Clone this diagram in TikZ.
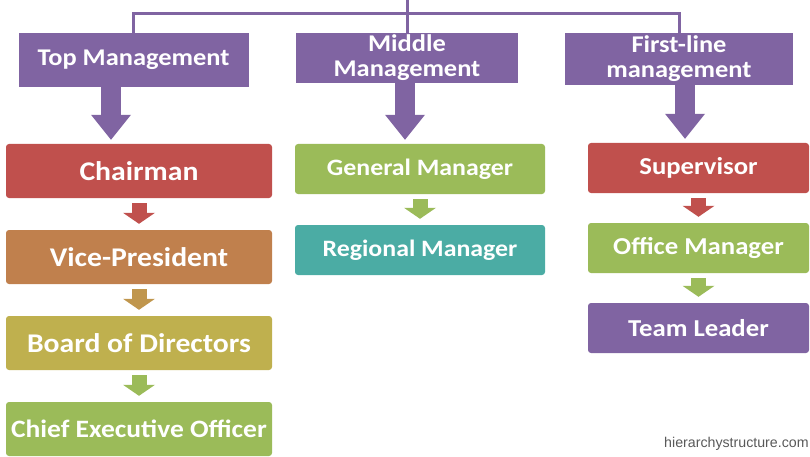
\documentclass[tikz,border=0pt]{standalone}
\usepackage{fontspec}
\setmainfont[FakeStretch=1.1]{Carlito}
\newfontfamily\sitefont{Liberation Sans}
\usetikzlibrary{arrows.meta}

\definecolor{violet1}{RGB}{128,100,162}
\definecolor{red1}{RGB}{192,80,77}
\definecolor{brown1}{RGB}{192,128,77}
\definecolor{olive1}{RGB}{191,176,78}
\definecolor{green1}{RGB}{155,187,89}
\definecolor{teal1}{RGB}{75,172,164}

\tikzset{
  level/.style={fill=violet1, text=white, align=center, inner sep=0pt,
    font=\fontsize{24}{25}\selectfont\bfseries},
  post/.style={rounded corners=3pt, text=white, inner sep=0pt},
  link/.style={draw=violet1, line width=3pt},
  bigarrow/.style={draw=violet1, line width=20pt,
    -{Triangle[width=40pt,length=25pt,line width=0pt]}, shorten >=4pt},
  smallarrow/.style={line width=15pt,
    -{Triangle[width=32pt,length=11pt,line width=0pt]}, shorten <=5pt, shorten >=6pt}
}

\begin{document}
\begin{tikzpicture}[x=1pt,y=-1pt]
\useasboundingbox (0,0) rectangle (810,457);

% levels
\node[level, minimum width=230pt, minimum height=54pt] (top) at (133.5,60) {Top Management};
\node[level, minimum width=222pt, minimum height=50pt] (mid) at (407,58) {Middle\\Management};
\node[level, minimum width=228pt, minimum height=52pt] (first) at (679,59) {First-line\\management};

% top management
\node[post, fill=red1, minimum width=266pt, minimum height=54pt, font=\fontsize{27}{30}\selectfont\bfseries] (chair) at (139,171) {Chairman};
\node[post, fill=brown1, minimum width=266pt, minimum height=54pt, font=\fontsize{27}{30}\selectfont\bfseries] (vp) at (139,257) {Vice-President};
\node[post, fill=olive1, minimum width=266pt, minimum height=54pt, font=\fontsize{27}{30}\selectfont\bfseries] (board) at (139,343) {Board of Directors};
\node[post, fill=green1, minimum width=266pt, minimum height=54pt, font=\fontsize{25}{28}\selectfont\bfseries] (ceo) at (139,429) {Chief Executive Officer};

% middle management
\node[post, fill=green1, minimum width=250pt, minimum height=50pt, font=\fontsize{23.5}{26}\selectfont\bfseries] (gm) at (420,169) {General Manager};
\node[post, fill=teal1, minimum width=250pt, minimum height=50pt, font=\fontsize{23.5}{26}\selectfont\bfseries] (rm) at (420,250) {Regional Manager};

% first-line management
\node[post, fill=red1, minimum width=221pt, minimum height=50pt, font=\fontsize{24.3}{27}\selectfont\bfseries] (sup) at (698.5,168) {Supervisor};
\node[post, fill=green1, minimum width=221pt, minimum height=50pt, font=\fontsize{24.3}{27}\selectfont\bfseries] (om) at (698.5,248) {Office Manager};
\node[post, fill=violet1, minimum width=221pt, minimum height=50pt, font=\fontsize{24.3}{27}\selectfont\bfseries] (tl) at (698.5,328) {Team Leader};

\node[font=\sitefont\fontsize{14.2}{15}\selectfont, text=black!65, anchor=base west, inner sep=0pt] (site) at (664,447) {hierarchystructure.com};

% tree lines
\coordinate (root) at (407,0);
\coordinate (hub) at (407,14);
\path[link] (root) -- (hub);
\path[link] (hub) -| (top.north);
\path[link] (hub) -- (mid.north);
\path[link] (hub) -| (first.north);

\path[bigarrow] ([xshift=-22.5pt]top.south) -- ([xshift=-28pt]chair.north);
\path[bigarrow] ([xshift=-2pt]mid.south) -- ([xshift=-15pt]gm.north);
\path[bigarrow] ([xshift=6pt]first.south) -- ([xshift=-13.5pt]sup.north);

\path[smallarrow, draw=red1] (chair) -- (vp);
\path[smallarrow, draw=brown1!55!olive1] (vp) -- (board);
\path[smallarrow, draw=green1] (board) -- (ceo);
\path[smallarrow, draw=green1] (gm) -- (rm);
\path[smallarrow, draw=red1] (sup) -- (om);
\path[smallarrow, draw=green1] (om) -- (tl);
\end{tikzpicture}
\end{document}
